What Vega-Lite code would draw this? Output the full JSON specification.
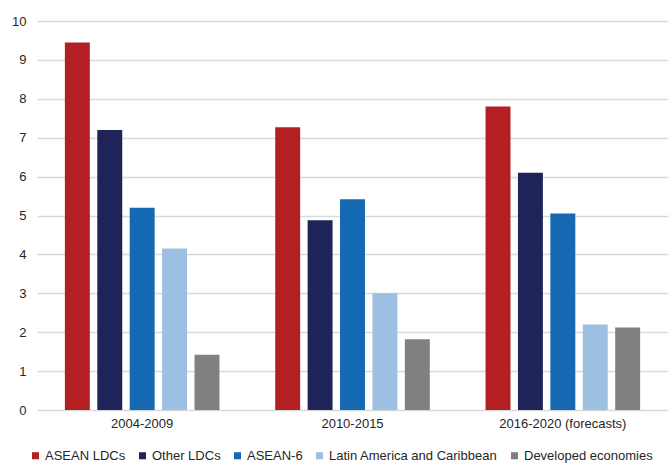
{
  "$schema": "https://vega.github.io/schema/vega-lite/v6.json",
  "width": 631,
  "height": 389,
  "autosize": {"type": "none"},
  "padding": {"left": 37, "top": 21, "right": 4, "bottom": 54},
  "background": "white",
  "config": {
    "view": {"stroke": null},
    "font": "Liberation Sans, Arial, sans-serif"
  },
  "data": {
    "values": [
      {"period": "2004-2009", "group": "ASEAN LDCs", "value": 9.45},
      {"period": "2004-2009", "group": "Other LDCs", "value": 7.2},
      {"period": "2004-2009", "group": "ASEAN-6", "value": 5.2},
      {"period": "2004-2009", "group": "Latin America and Caribbean", "value": 4.15},
      {"period": "2004-2009", "group": "Developed economies", "value": 1.42},
      {"period": "2010-2015", "group": "ASEAN LDCs", "value": 7.27},
      {"period": "2010-2015", "group": "Other LDCs", "value": 4.88},
      {"period": "2010-2015", "group": "ASEAN-6", "value": 5.42},
      {"period": "2010-2015", "group": "Latin America and Caribbean", "value": 3.0},
      {"period": "2010-2015", "group": "Developed economies", "value": 1.82},
      {"period": "2016-2020 (forecasts)", "group": "ASEAN LDCs", "value": 7.8},
      {"period": "2016-2020 (forecasts)", "group": "Other LDCs", "value": 6.1},
      {"period": "2016-2020 (forecasts)", "group": "ASEAN-6", "value": 5.05},
      {"period": "2016-2020 (forecasts)", "group": "Latin America and Caribbean", "value": 2.2},
      {"period": "2016-2020 (forecasts)", "group": "Developed economies", "value": 2.12}
    ]
  },
  "mark": {"type": "bar"},
  "encoding": {
    "x": {
      "field": "period",
      "type": "nominal",
      "sort": null,
      "scale": {"paddingInner": 0, "paddingOuter": 0},
      "axis": {
        "title": null,
        "labelAngle": 0,
        "domain": false,
        "ticks": false,
        "labelPadding": 7,
        "labelFontSize": 13,
        "labelColor": "#262626"
      }
    },
    "xOffset": {
      "field": "group",
      "type": "nominal",
      "sort": ["ASEAN LDCs", "Other LDCs", "ASEAN-6", "Latin America and Caribbean", "Developed economies"],
      "scale": {"paddingInner": 0.23, "paddingOuter": 0.86}
    },
    "y": {
      "field": "value",
      "type": "quantitative",
      "scale": {"domain": [0, 10]},
      "axis": {
        "title": null,
        "domain": false,
        "ticks": false,
        "tickCount": 10,
        "labelPadding": 11,
        "labelFontSize": 13,
        "labelColor": "#262626",
        "gridColor": "#d9d9d9",
        "gridWidth": 1.5
      }
    },
    "color": {
      "field": "group",
      "type": "nominal",
      "sort": ["ASEAN LDCs", "Other LDCs", "ASEAN-6", "Latin America and Caribbean", "Developed economies"],
      "scale": {
        "domain": ["ASEAN LDCs", "Other LDCs", "ASEAN-6", "Latin America and Caribbean", "Developed economies"],
        "range": ["#B41F24", "#1F2458", "#1569B2", "#9DBFE2", "#808080"]
      },
      "legend": {
        "title": null,
        "orient": "none",
        "direction": "horizontal",
        "legendX": -8,
        "legendY": 428,
        "symbolType": "square",
        "symbolSize": 50,
        "symbolStrokeWidth": 0,
        "labelFontSize": 13,
        "labelColor": "#262626",
        "labelLimit": 0,
        "labelOffset": 3,
        "columnPadding": 10
      }
    }
  }
}
